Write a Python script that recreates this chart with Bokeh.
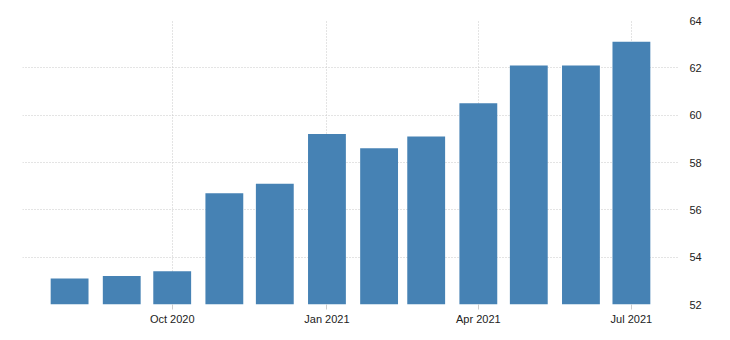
import pandas as pd
from bokeh.plotting import figure
from bokeh.models import FixedTicker, DatetimeTickFormatter, Range1d, ColumnDataSource
from bokeh.embed import file_html
from bokeh.resources import INLINE

months = ["2020-08-01", "2020-09-01", "2020-10-01", "2020-11-01", "2020-12-01", "2021-01-01",
          "2021-02-01", "2021-03-01", "2021-04-01", "2021-05-01", "2021-06-01", "2021-07-01"]
values = [53.1, 53.2, 53.4, 56.7, 57.1, 59.2, 58.6, 59.1, 60.5, 62.1, 62.1, 63.1]
x_tick_dates = ["2020-10-01", "2021-01-01", "2021-04-01", "2021-07-01"]
y_ticks = [52, 54, 56, 58, 60, 62, 64]

dates = pd.to_datetime(months)
src = ColumnDataSource(dict(x=dates, top=values))

p = figure(width=730, height=340, x_axis_type="datetime", y_axis_location="right",
           output_backend="svg", toolbar_location=None,
           min_border_left=22, min_border_top=20, min_border_right=52, min_border_bottom=36)
p.outline_line_color = None

day_ms = 86400000
p.vbar(x="x", top="top", bottom=52, width=22.5 * day_ms, source=src,
       fill_color="#4682B4", line_color=None)

p.x_range = Range1d(pd.Timestamp("2020-07-04"), pd.Timestamp("2021-07-29"))
p.y_range = Range1d(52, 64)

p.xaxis.ticker = FixedTicker(ticks=[pd.Timestamp(d).value / 1e6 for d in x_tick_dates])
p.xaxis.formatter = DatetimeTickFormatter(months="%b %Y", days="%b %Y", years="%b %Y")
p.yaxis.ticker = FixedTicker(ticks=y_ticks)

for ax in (p.xaxis, p.yaxis):
    ax.axis_line_color = None
    ax.minor_tick_line_color = None
    ax.major_label_text_font = "Liberation Sans"
    ax.major_label_text_font_size = "11px"
    ax.major_label_text_color = "#222222"

p.yaxis.major_tick_line_color = None
p.yaxis.major_label_standoff = 5
p.xaxis.major_tick_line_color = "#cccccc"
p.xaxis.major_tick_out = 5
p.xaxis.major_tick_in = 0
p.xaxis.major_label_standoff = 3

p.grid.grid_line_color = "#c8c8c8"
p.grid.grid_line_dash = "1 2"
p.grid.grid_line_width = 1

open("out.html", "w").write(file_html(p, INLINE))
